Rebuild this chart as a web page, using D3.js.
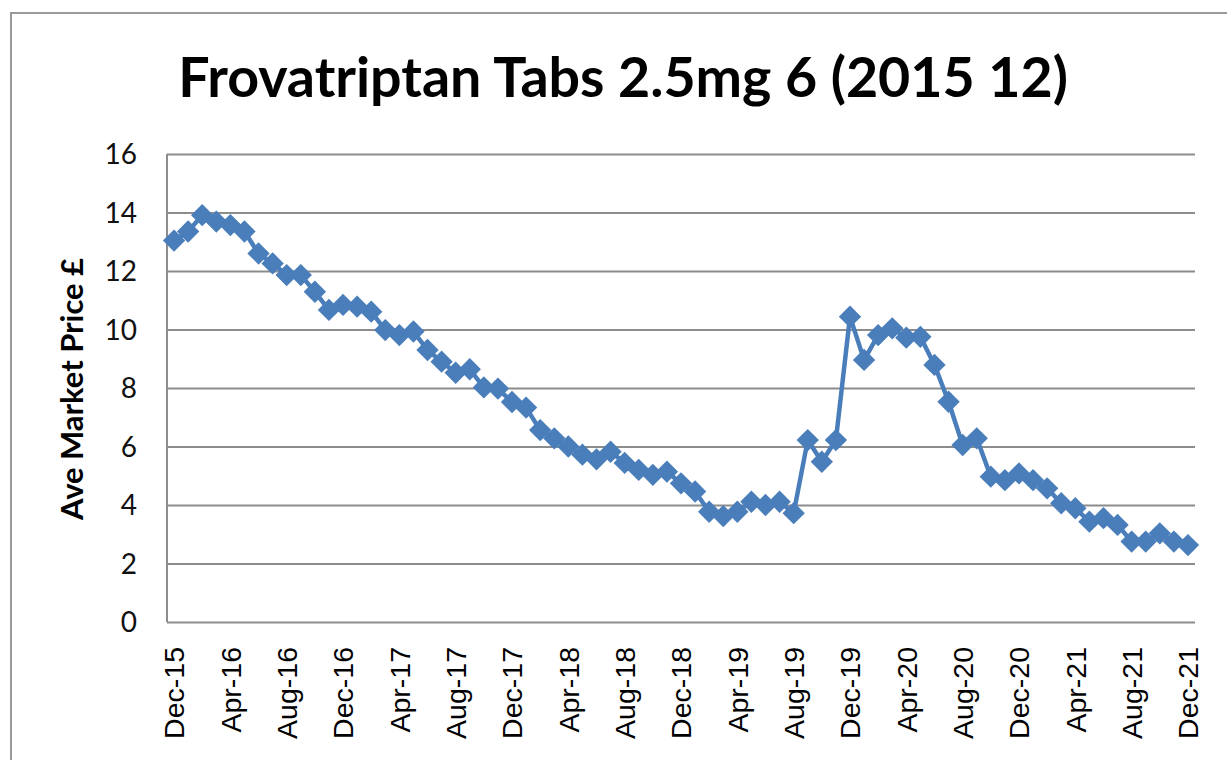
<!DOCTYPE html>
<html>
<head>
<meta charset="utf-8">
<script src="https://cdn.jsdelivr.net/npm/d3@7"></script>
<style>
  body { margin: 0; background: #fff; }
  svg { display: block; }
  .grid line { stroke: #8c8c8c; stroke-width: 2; }
  .grid path { display: none; }
</style>
</head>
<body>
<script>
// chart data
const TITLE = "Frovatriptan Tabs 2.5mg 6 (2015 12)";
const Y_TITLE = "Ave Market Price £";

const months = [
  "Dec-15","Jan-16","Feb-16","Mar-16","Apr-16","May-16","Jun-16","Jul-16","Aug-16","Sep-16","Oct-16","Nov-16",
  "Dec-16","Jan-17","Feb-17","Mar-17","Apr-17","May-17","Jun-17","Jul-17","Aug-17","Sep-17","Oct-17","Nov-17",
  "Dec-17","Jan-18","Feb-18","Mar-18","Apr-18","May-18","Jun-18","Jul-18","Aug-18","Sep-18","Oct-18","Nov-18",
  "Dec-18","Jan-19","Feb-19","Mar-19","Apr-19","May-19","Jun-19","Jul-19","Aug-19","Sep-19","Oct-19","Nov-19",
  "Dec-19","Jan-20","Feb-20","Mar-20","Apr-20","May-20","Jun-20","Jul-20","Aug-20","Sep-20","Oct-20","Nov-20",
  "Dec-20","Jan-21","Feb-21","Mar-21","Apr-21","May-21","Jun-21","Jul-21","Aug-21","Sep-21","Oct-21","Nov-21",
  "Dec-21"
];

const prices = [
  13.04, 13.35, 13.91, 13.69, 13.57, 13.35, 12.60, 12.26, 11.86, 11.86, 11.29, 10.67,
  10.84, 10.78, 10.61, 9.98, 9.81, 9.93, 9.30, 8.90, 8.52, 8.64, 8.02, 7.98,
  7.52, 7.33, 6.56, 6.28, 6.00, 5.72, 5.56, 5.82, 5.44, 5.20, 5.03, 5.14,
  4.74, 4.46, 3.77, 3.62, 3.77, 4.11, 4.00, 4.11, 3.72, 6.22, 5.48, 6.22,
  10.44, 8.96, 9.81, 10.04, 9.72, 9.75, 8.79, 7.53, 6.05, 6.28, 4.97, 4.85,
  5.08, 4.85, 4.57, 4.06, 3.89, 3.43, 3.55, 3.32, 2.75, 2.75, 3.03, 2.75,
  2.63
];

const xTickLabels = ["Dec-15","Apr-16","Aug-16","Dec-16","Apr-17","Aug-17","Dec-17","Apr-18","Aug-18","Dec-18",
  "Apr-19","Aug-19","Dec-19","Apr-20","Aug-20","Dec-20","Apr-21","Aug-21","Dec-21"];
const yTicks = [0, 2, 4, 6, 8, 10, 12, 14, 16];

const W = 1227, H = 760;
const plot = {left: 167, right: 1195, top: 154, bottom: 622};
const BLUE = "#4a7ebb";

let svg = d3.select("body").append("svg")
  .attr("width", W)
  .attr("height", H);

// outer chart frame (only top and left edges show)
svg.append("rect")
  .attr("x", 11).attr("y", 13)
  .attr("width", W + 20).attr("height", H + 20)
  .attr("fill", "#fff")
  .attr("stroke", "#9a9a9a")
  .attr("stroke-width", 2);

let xScale = d3.scaleBand()
  .domain(months)
  .range([plot.left, plot.right])
  .padding(0);

let yScale = d3.scaleLinear()
  .domain([0, 16])
  .range([plot.bottom, plot.top]);

// horizontal gridlines
svg.append("g")
  .attr("class", "grid")
  .attr("transform", "translate(" + plot.left + ",0)")
  .call(d3.axisLeft(yScale)
    .tickValues(yTicks)
    .tickSize(-(plot.right - plot.left))
    .tickFormat(""));

// left axis line
svg.append("line")
  .attr("x1", plot.left).attr("x2", plot.left)
  .attr("y1", plot.top).attr("y2", plot.bottom)
  .attr("stroke", "#8c8c8c")
  .attr("stroke-width", 2);

// y tick labels
svg.append("g")
  .selectAll("text")
  .data(yTicks)
  .enter().append("text")
    .attr("x", 137)
    .attr("y", function(d) { return yScale(d); })
    .attr("dy", "0.36em")
    .attr("text-anchor", "end")
    .attr("font-family", "Lato, 'Open Sans', sans-serif")
    .attr("font-size", 28)
    .attr("fill", "#111")
    .text(function(d) { return d; });

// x tick labels, every 4th month, rotated
svg.append("g")
  .selectAll("text")
  .data(xTickLabels)
  .enter().append("text")
    .attr("transform", function(d) {
      return "translate(" + (xScale(d) + xScale.bandwidth() / 2) + ",647) rotate(-90)";
    })
    .attr("dy", "0.36em")
    .attr("text-anchor", "end")
    .attr("font-family", "'Liberation Sans', Arial, sans-serif")
    .attr("font-size", 28.5)
    .attr("fill", "#000")
    .text(function(d) { return d; });

// the price line
let priceLine = d3.line()
  .x(function(d, i) { return xScale(months[i]) + xScale.bandwidth() / 2; })
  .y(function(d) { return yScale(d); });

svg.append("path")
  .datum(prices)
  .attr("fill", "none")
  .attr("stroke", BLUE)
  .attr("stroke-width", 4.5)
  .attr("stroke-linejoin", "round")
  .attr("d", priceLine);

// diamond markers
let diamond = d3.symbol().type(d3.symbolSquare).size(250);
svg.append("g")
  .selectAll("path")
  .data(prices)
  .enter().append("path")
    .attr("transform", function(d, i) {
      return "translate(" + (xScale(months[i]) + xScale.bandwidth() / 2) + "," + yScale(d) + ") rotate(45)";
    })
    .attr("fill", BLUE)
    .attr("d", diamond);

// title, squeezed to the width seen in the picture
let title = svg.append("text")
  .attr("x", 623)
  .attr("y", 97)
  .attr("text-anchor", "middle")
  .attr("font-family", "Lato, 'Open Sans', sans-serif")
  .attr("font-weight", "bold")
  .attr("font-size", 50)
  .attr("fill", "#000")
  .text(TITLE);
let tw = title.node().getComputedTextLength();
title.attr("font-size", 50 * 890 / tw);

// y axis title
let ytitle = svg.append("text")
  .attr("transform", "translate(72,389) rotate(-90)")
  .attr("dy", "0.36em")
  .attr("text-anchor", "middle")
  .attr("font-family", "Lato, 'Open Sans', sans-serif")
  .attr("font-weight", "bold")
  .attr("font-size", 24)
  .attr("fill", "#000")
  .text(Y_TITLE);
let yw = ytitle.node().getComputedTextLength();
ytitle.attr("font-size", 24 * 262 / yw);
</script>
</body>
</html>
